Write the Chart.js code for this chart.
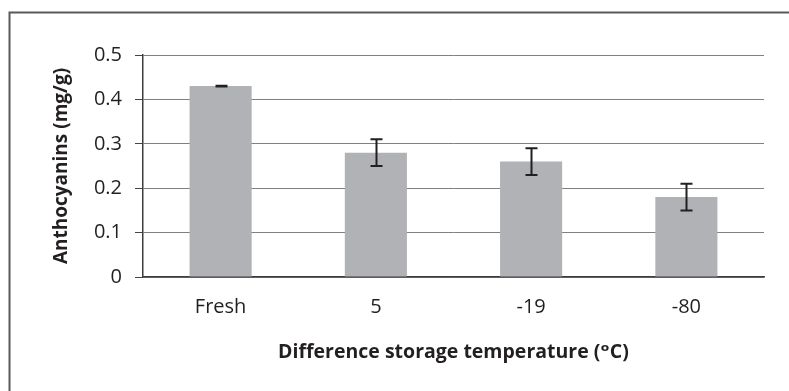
<!DOCTYPE html>
<html>
<head>
<meta charset="utf-8">
<script src="https://cdn.jsdelivr.net/npm/chart.js@4"></script>
<style>
  html, body { margin: 0; padding: 0; background: #ffffff; }
  #wrap { position: relative; width: 789px; height: 391px; }
</style>
</head>
<body>
<div id="wrap"><canvas id="c" width="789" height="391"></canvas></div>
<script>
// Anthocyanin content by storage temperature, with standard deviations
const categories = ['Fresh', '5', '-19', '-80'];
const anthocyanins = [0.43, 0.28, 0.26, 0.18];
const deviations = [0.001, 0.03, 0.03, 0.03];
const yTicks = [0, 0.1, 0.2, 0.3, 0.4, 0.5];

const FONT = '"Open Sans", "DejaVu Sans", sans-serif';

// Frame around the figure (top and left edges)
const framePlugin = {
  id: 'frame',
  beforeDraw(chart) {
    const ctx = chart.ctx;
    ctx.save();
    ctx.strokeStyle = '#5a5a5a';
    ctx.lineWidth = 2;
    ctx.beginPath();
    ctx.moveTo(9.5, 391);
    ctx.lineTo(9.5, 12.5);
    ctx.lineTo(789, 12.5);
    ctx.stroke();
    ctx.restore();
  }
};

// Error bars drawn on top of each bar
const errorBarPlugin = {
  id: 'errorBars',
  afterDatasetsDraw(chart) {
    const ctx = chart.ctx;
    const meta = chart.getDatasetMeta(0);
    const y = chart.scales.y;
    ctx.save();
    ctx.strokeStyle = '#231f20';
    ctx.lineWidth = 2;
    meta.data.forEach((bar, i) => {
      const v = anthocyanins[i], e = deviations[i];
      const x = Math.round(bar.x) + 0.5;
      const yHi = y.getPixelForValue(v + e);
      const yLo = y.getPixelForValue(v - e);
      const cap = 6;
      ctx.beginPath();
      ctx.moveTo(x, yHi); ctx.lineTo(x, yLo);
      ctx.moveTo(x - cap, yHi); ctx.lineTo(x + cap, yHi);
      ctx.moveTo(x - cap, yLo); ctx.lineTo(x + cap, yLo);
      ctx.stroke();
    });
    ctx.restore();
  }
};

new Chart(document.getElementById('c'), {
  type: 'bar',
  data: {
    labels: categories,
    datasets: [{
      data: anthocyanins,
      backgroundColor: '#b1b2b5',
      borderWidth: 0,
      categoryPercentage: 1.0,
      barPercentage: 0.4
    }]
  },
  options: {
    responsive: false,
    animation: false,
    devicePixelRatio: 1,
    layout: { padding: { top: 55, right: 25, bottom: 20, left: 20 } },
    plugins: {
      legend: { display: false },
      tooltip: { enabled: false }
    },
    scales: {
      x: {
        grid: { display: false },
        border: { display: true, color: '#3c3c3c', width: 1.5 },
        ticks: { color: '#231f20', padding: 10, font: { family: FONT, size: 20 } },
        title: {
          display: true,
          text: 'Difference storage temperature (ᵒC)',
          color: '#231f20',
          font: { family: FONT, size: 19.5, weight: 'bold' },
          padding: { top: 0, bottom: 7 }
        },
        afterFit(scale) { scale.height = 391 - 20 - 277; }
      },
      y: {
        min: 0,
        max: 0.5,
        afterBuildTicks(scale) { scale.ticks = yTicks.map(v => ({ value: v })); },
        grid: { color: '#808080', lineWidth: 1, tickColor: '#444444', tickLength: 8 },
        border: { display: true, color: '#3c3c3c', width: 1.5 },
        ticks: {
          color: '#231f20',
          padding: 13,
          font: { family: FONT, size: 20 },
          callback: (v) => String(v)
        },
        title: {
          display: true,
          text: 'Anthocyanins (mg/g)',
          color: '#231f20',
          font: { family: FONT, size: 19, weight: 'bold' },
          padding: { top: 30, bottom: 0 }
        },
        afterFit(scale) { scale.width = 143 - 20; }
      }
    }
  },
  plugins: [framePlugin, errorBarPlugin]
});
</script>
</body>
</html>
